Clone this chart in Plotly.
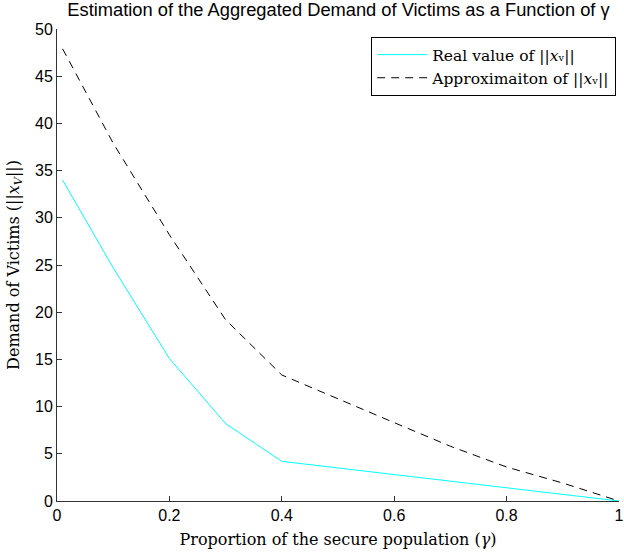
import plotly.graph_objects as go

gamma_real = [0.01, 0.1, 0.2, 0.3, 0.4, 1.0]
demand_real = [34.0, 24.7, 15.1, 8.2, 4.2, 0.0]

gamma_approx = [0.01, 0.1, 0.2, 0.3, 0.4, 0.5, 0.6, 0.7, 0.8, 0.9, 1.0]
demand_approx = [47.9, 37.9, 28.2, 19.2, 13.35, 10.8, 8.3, 5.8, 3.6, 1.9, 0.0]

x_ticks = [0, 0.2, 0.4, 0.6, 0.8, 1]
x_tick_labels = ["0", "0.2", "0.4", "0.6", "0.8", "1"]
y_ticks = [0, 5, 10, 15, 20, 25, 30, 35, 40, 45, 50]

serif = "DejaVu Serif, Liberation Serif, serif"
sans = "Liberation Sans, Arial, Helvetica, sans-serif"

fig = go.Figure()
fig.add_trace(go.Scatter(
    x=gamma_real, y=demand_real, mode="lines",
    line=dict(color="#00ffff", width=1),
    name="Real value of ||<i>x</i>ᵥ||",
    cliponaxis=False,
))
fig.add_trace(go.Scatter(
    x=gamma_approx, y=demand_approx, mode="lines",
    line=dict(color="black", width=1, dash="8px,6px"),
    name="Approximaiton of ||<i>x</i>ᵥ||",
    cliponaxis=False,
))

fig.update_layout(
    width=624, height=557,
    margin=dict(l=57, r=5, t=29, b=56, autoexpand=False),
    paper_bgcolor="white", plot_bgcolor="white",
    title=dict(
        text="Estimation of the Aggregated Demand of Victims as a Function of γ",
        x=(57 + 620) / 2 / 624, xanchor="center", y=1 - 10 / 557, yanchor="middle",
        font=dict(family=sans, size=18.3, color="black"),
    ),
    showlegend=True,
    legend=dict(
        x=0.995, y=0.983, xanchor="right", yanchor="top",
        bgcolor="white", bordercolor="black", borderwidth=1,
        font=dict(family=serif, size=15.5, color="black"),
        tracegroupgap=0, itemwidth=50,
    ),
    xaxis=dict(
        range=[0, 1], tickmode="array", tickvals=x_ticks, ticktext=x_tick_labels,
        ticks="inside", ticklen=5, tickcolor="#333", showline=True, linecolor="#333",
        linewidth=1, showgrid=False, zeroline=False, mirror=False, automargin=False,
        ticklabeloverflow="allow",
        tickfont=dict(family=sans, size=16, color="black"),
        title=dict(text="Proportion of the secure population (<i>γ</i>)",
                   font=dict(family=serif, size=16, color="black"), standoff=10),
    ),
    yaxis=dict(
        range=[0, 50], tickmode="array", tickvals=y_ticks,
        ticks="inside", ticklen=5, tickcolor="#333", showline=True, linecolor="#333",
        linewidth=1, showgrid=False, zeroline=False, mirror=False, automargin=False,
        ticklabeloverflow="allow",
        tickfont=dict(family=sans, size=16, color="black"),
        title=dict(text="Demand of Victims (||<i>x<sub>V</sub></i>||)",
                   font=dict(family=serif, size=16, color="black"), standoff=11),
    ),
)

fig.write_html("out.html", config={"displayModeBar": False},
               post_script="document.body.style.margin='0px';")
